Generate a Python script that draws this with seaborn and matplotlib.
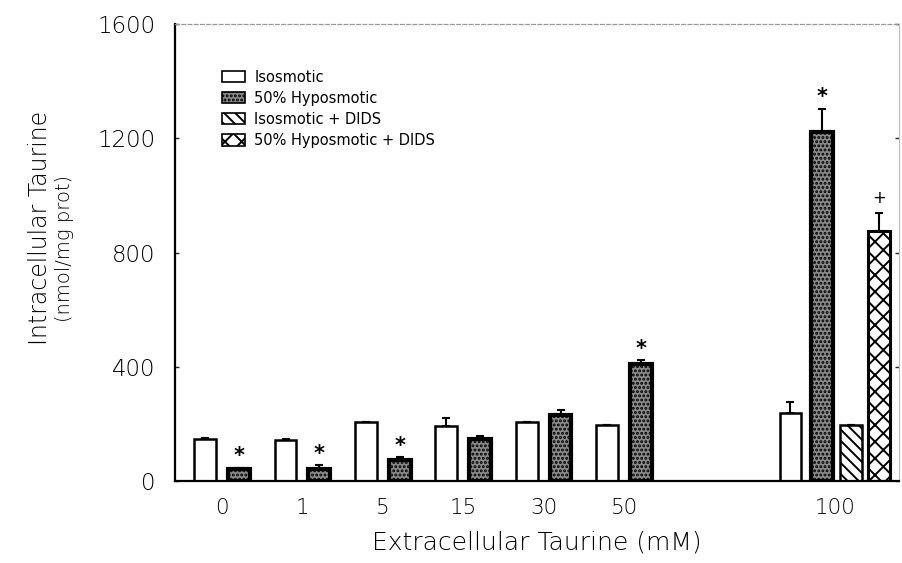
import numpy as np
import pandas as pd
import matplotlib
matplotlib.use("Agg")
import matplotlib.pyplot as plt
import matplotlib.patches as mpatches
import seaborn as sns

# ---- data ----
categories = ["0", "1", "5", "15", "30", "50", "100"]
iso = [146, 143, 205, 192, 205, 195, 237]
iso_err = [3, 3, 3, 28, 3, 2, 40]
hypo = [42, 42, 73, 146, 230, 411, 1223]
hypo_err = [5, 14, 10, 12, 17, 12, 80]
iso_dids = [195]          # only at 100 mM
iso_dids_err = [0]
hypo_dids = [875]         # only at 100 mM
hypo_dids_err = [62]
hypo_marks = ["*", "*", "*", "", "", "*", "*"]
hypo_dids_marks = ["+"]

series_names = ["Isosmotic", "50% Hyposmotic", "Isosmotic + DIDS", "50% Hyposmotic + DIDS"]

# ---- layout (positions in group units) ----
centers = np.array([0, 1, 2, 3, 4, 5, 7.62])
pair_off = 0.21
last_off = [-0.55, -0.16, 0.2, 0.55]
bar_w = 0.27

iso_x = np.array([c - pair_off for c in centers[:-1]] + [centers[-1] + last_off[0]])
hypo_x = np.array([c + pair_off for c in centers[:-1]] + [centers[-1] + last_off[1]])
isod_x = np.array([centers[-1] + last_off[2]])
hypod_x = np.array([centers[-1] + last_off[3]])

sns.set_theme(style="white")
plt.rcParams["font.family"] = ["DejaVu Sans"]
plt.rcParams["hatch.linewidth"] = 1.4

TXT = "#000000"
fig = plt.figure(figsize=(9.02, 5.63), dpi=100)
ax = fig.add_axes([175 / 902, 1 - 481 / 563, (899 - 175) / 902, (481 - 24) / 563])

styles = [
    dict(color="white", edgecolor="black", linewidth=1.8, hatch=None),
    dict(color="#8a8a8a", edgecolor="black", linewidth=3.0, hatch="...."),
    dict(color="white", edgecolor="black", linewidth=1.8, hatch="\\\\\\"),
    dict(color="white", edgecolor="black", linewidth=2.2, hatch="xx"),
]

sets = [
    (iso_x, iso, iso_err),
    (hypo_x, hypo, hypo_err),
    (isod_x, iso_dids, iso_dids_err),
    (hypod_x, hypo_dids, hypo_dids_err),
]

for (xs, vals, errs), st, name in zip(sets, styles, series_names):
    df = pd.DataFrame({"x": xs, "value": vals})
    kw = dict(edgecolor=st["edgecolor"], linewidth=st["linewidth"])
    if st["hatch"]:
        kw["hatch"] = st["hatch"]
    sns.barplot(data=df, x="x", y="value", native_scale=True, width=bar_w,
                color=st["color"], saturation=1, errorbar=None, ax=ax, **kw)
    ax.errorbar(xs, vals, yerr=[np.zeros(len(errs)), errs], fmt="none",
                ecolor="black", elinewidth=1.5, capsize=3, capthick=1.5)

# significance marks
for x, v, e, m in zip(hypo_x, hypo, hypo_err, hypo_marks):
    if m:
        ax.text(x, v + e + 40, m, ha="center", va="center", fontsize=15,
                fontweight="bold", color="black")
for x, v, e, m in zip(hypod_x, hypo_dids, hypo_dids_err, hypo_dids_marks):
    ax.text(x, v + e + 55, m, ha="center", va="center", fontsize=12, color="black")

# axes
ax.set_xlim(-0.585, 8.42)
ax.set_ylim(0, 1600)
ax.set_yticks([0, 400, 800, 1200, 1600])
ax.set_yticklabels(["0", "400", "800", "1200", "1600"], fontsize=16.5, color=TXT,
                   fontweight="light")
ax.set_xticks(centers)
ax.set_xticklabels(categories, fontsize=15.5, color=TXT, fontweight="light")
ax.tick_params(axis="y", direction="in", length=3, width=1, left=True, right=True, pad=14)
ax.tick_params(axis="x", length=0, pad=12)
ax.set_xlabel("Extracellular Taurine (mM)", fontsize=18, color=TXT, labelpad=9,
              fontweight="light")
ax.set_ylabel("")
fig.text(40 / 902, 1 - 228 / 563, "Intracellular Taurine", rotation=90,
         ha="center", va="center", fontsize=17, color=TXT, fontweight="light")
fig.text(65 / 902, 1 - 248 / 563, "(nmol/mg prot)", rotation=90,
         ha="center", va="center", fontsize=14, color=TXT, fontweight="light")

for s in ["left", "bottom"]:
    ax.spines[s].set_color("black")
    ax.spines[s].set_linewidth(1.6)
ax.spines["top"].set_linestyle((0, (3, 2)))
ax.spines["top"].set_color("#999999")
ax.spines["top"].set_linewidth(0.9)
ax.spines["right"].set_color("#bbbbbb")
ax.spines["right"].set_linewidth(0.8)

handles = [mpatches.Patch(facecolor=st["color"], edgecolor="black",
                          linewidth=1.2, hatch=st["hatch"]) for st in styles]
ax.legend(handles, series_names, loc="upper left", bbox_to_anchor=(0.065, 0.9),
          frameon=False, fontsize=10.5, handlelength=1.6, handleheight=0.8,
          labelspacing=0.42, handletextpad=0.6, borderpad=0, borderaxespad=0,
          labelcolor=TXT)

fig.savefig("out.png", dpi=100)
